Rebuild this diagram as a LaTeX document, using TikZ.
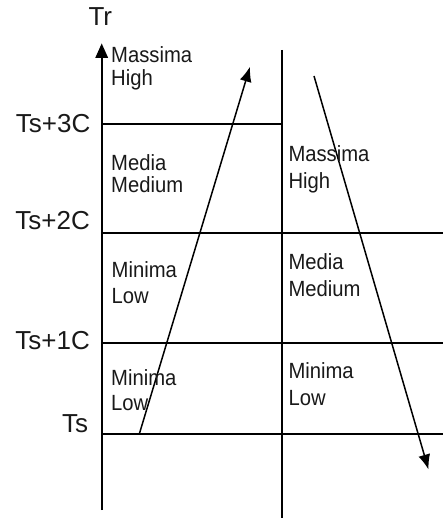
\documentclass[tikz,border=0pt]{standalone}
\usepackage{fontspec}
\setmainfont{Liberation Sans}
\newfontfamily\narrowfont[FakeStretch=0.92]{Liberation Sans}
\usetikzlibrary{arrows.meta}
\newcommand\twoline[3]{\vtop{\baselineskip=#1pt\hbox{#2}\hbox{#3}}}
\tikzset{
  gridline/.style={line width=2pt, line cap=butt},
  trend/.style={line width=1.5pt, -{Latex[length=15pt,width=12pt]}},
  axisline/.style={line width=2pt},
  axishead/.style={fill=black, draw=none},
  outer/.style={font=\fontsize{26}{30}\selectfont, text=black!90, inner sep=0pt},
  inner/.style={font=\narrowfont\fontsize{22}{26}\selectfont, text=black!90, inner sep=0pt, anchor=base west},
}
\begin{document}
\begin{tikzpicture}[x=1pt,y=-1pt]
\useasboundingbox (0,0) rectangle (443,518);
% axes
\coordinate (axb) at (101.7,510);
\coordinate (axh) at (101.7,56);
\coordinate (axt) at (101.7,43.5);
\coordinate (axhl) at (95.2,58);
\coordinate (axhr) at (108.2,58);
\coordinate (midt) at (281.7,50);
\coordinate (midb) at (281.7,518);
\draw[axisline] (axb) -- (axh);
\fill[axishead] (axt) -- (axhr) -- (axhl) -- cycle;
\draw[gridline] (midt) -- (midb);
% horizontal levels
\coordinate (h3l) at (101.7,124.5);
\coordinate (h3r) at (281.7,124.5);
\coordinate (h2l) at (101.7,233);
\coordinate (h2r) at (443,233);
\coordinate (h1l) at (101.7,343);
\coordinate (h1r) at (443,343);
\coordinate (h0l) at (101.7,434);
\coordinate (h0r) at (443,434);
\draw[gridline] (h3l) -- (h3r);
\draw[gridline] (h2l) -- (h2r);
\draw[gridline] (h1l) -- (h1r);
\draw[gridline] (h0l) -- (h0r);
% trend arrows
\coordinate (ups) at (139.3,434);
\coordinate (upe) at (250,66.7);
\coordinate (dns) at (314,76);
\coordinate (dne) at (428.5,469.5);
\draw[trend] (ups) -- (upe);
\draw[trend] (dns) -- (dne);
% outer labels
\node[outer, anchor=base west] (tr) at (88.3,26) {Tr};
\node[outer, anchor=base east] (t3) at (90.5,132.3) {Ts+3C};
\node[outer, anchor=base east] (t2) at (90,229.3) {Ts+2C};
\node[outer, anchor=base east] (t1) at (90,349.3) {Ts+1C};
\node[outer, anchor=base east] (t0) at (88.3,432.7) {Ts};
% inner labels, left column
\node[inner] (l1) at (111,62.7) {\twoline{23.3}{Massima}{High}};
\node[inner] (l2) at (111,170.7) {\twoline{22}{Media}{Medium}};
\node[inner] (l3) at (111.5,277.3) {\twoline{26}{Minima}{Low}};
\node[inner] (l4) at (111,385) {\twoline{25}{Minima}{Low}};
% inner labels, right column
\node[inner] (r1) at (288.3,162) {\twoline{27}{Massima}{High}};
\node[inner] (r2) at (288.3,269.3) {\twoline{27}{Media}{Medium}};
\node[inner] (r3) at (288.3,378.3) {\twoline{26.7}{Minima}{Low}};
\end{tikzpicture}
\end{document}
